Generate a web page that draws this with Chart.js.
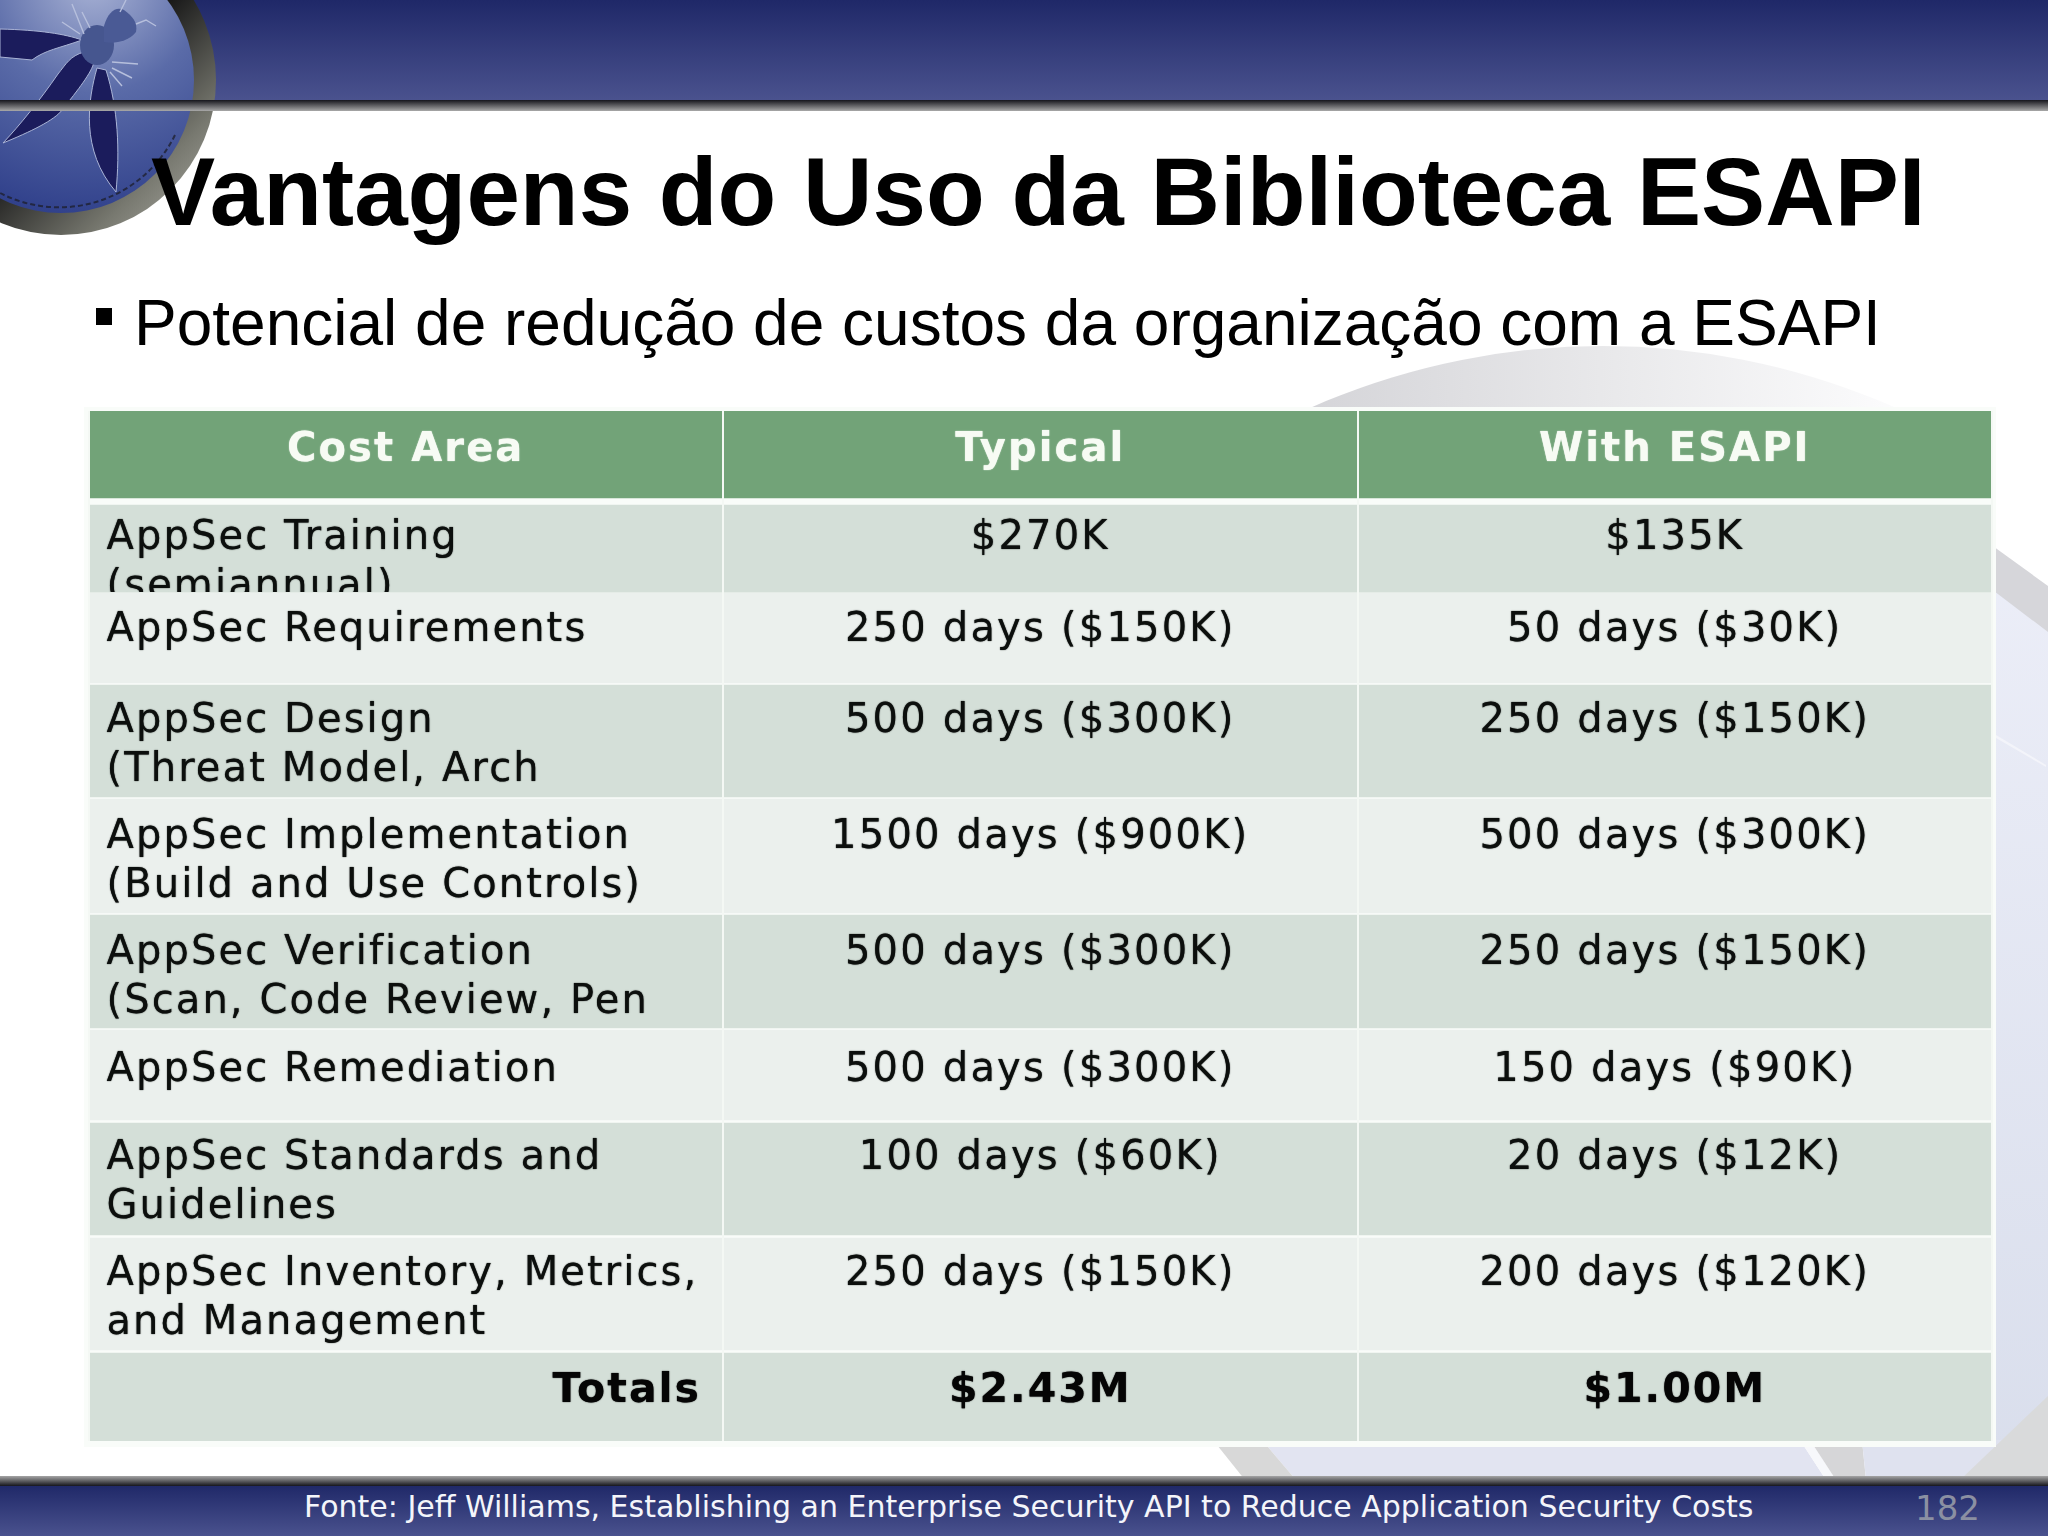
<!DOCTYPE html>
<html>
<head>
<meta charset="utf-8">
<style>
  html, body { margin: 0; padding: 0; background: #fff; }
  #slide { position: relative; width: 2048px; height: 1536px; overflow: hidden; }
  #slide svg { position: absolute; left: 0; top: 0; }
  #tableChart { position: absolute; left: 84px; top: 407px; background: #f9fcf9; }
</style>
<script src="https://cdn.jsdelivr.net/npm/chart.js@4"></script>
</head>
<body>
<div id="slide">
<svg width="2048" height="1536" viewBox="0 0 2048 1536">
  <defs>
    <linearGradient id="bandTop" x1="0" y1="0" x2="0" y2="1"><stop offset="0" stop-color="#1f2868"/><stop offset="1" stop-color="#4a528e"/></linearGradient>
    <linearGradient id="lineTop" x1="0" y1="0" x2="0" y2="1"><stop offset="0" stop-color="#15151c"/><stop offset="1" stop-color="#a8a8a8"/></linearGradient>
    <linearGradient id="lineBot" x1="0" y1="0" x2="0" y2="1"><stop offset="0" stop-color="#a5a5a5"/><stop offset="1" stop-color="#15151c"/></linearGradient>
    <linearGradient id="arc" gradientUnits="userSpaceOnUse" x1="1300" y1="0" x2="1900" y2="0"><stop offset="0" stop-color="#d4d4d8"/><stop offset="0.5" stop-color="#e8e8ea"/><stop offset="1" stop-color="#fcfcfd"/></linearGradient>
    <linearGradient id="lav" x1="0" y1="0" x2="0" y2="1"><stop offset="0" stop-color="#eceef8"/><stop offset="1" stop-color="#d9deec"/></linearGradient>
    <radialGradient id="disc" cx="0.62" cy="0.12" r="0.95"><stop offset="0" stop-color="#aab4d6"/><stop offset="0.45" stop-color="#5a6ba8"/><stop offset="1" stop-color="#2c3c88"/></radialGradient>
    <linearGradient id="ring" x1="0" y1="0" x2="1" y2="1"><stop offset="0" stop-color="#2b2b2b"/><stop offset="0.55" stop-color="#1a1a1a"/><stop offset="0.8" stop-color="#77786f"/><stop offset="1" stop-color="#b4b4ac"/></linearGradient>
  </defs>
  <rect width="2048" height="1536" fill="#fff"/>
  <!-- swoosh shapes behind the table -->
  <circle cx="1603" cy="1070" r="724" fill="url(#arc)"/>
  <rect x="900" y="411" width="1148" height="1070" fill="#fff"/>
  <polygon points="1990,544 2048,590 2048,1480 1990,1480" fill="url(#lav)"/>
  <polygon points="1990,544 2048,586 2048,632 1990,588" fill="#d6d6da"/>
  <polygon points="1996,735 2046,765 2046,767 1996,738" fill="#f3f4fa"/>
  <polygon points="1262,1440 1800,1440 1826,1480 1296,1480" fill="#e2e4f1"/>
  <polygon points="1213,1440 1262,1440 1296,1480 1245,1480" fill="#d8d8d8"/>
  <polygon points="1800,1440 1810,1440 1836,1480 1826,1480" fill="#f7f8fb"/>
  <polygon points="1810,1440 1862,1440 1866,1480 1836,1480" fill="#d6d6d8"/>
  <polygon points="1862,1440 2020,1440 1960,1480 1866,1480" fill="#dfe2ef"/>
  <polygon points="2048,1396 2048,1480 1960,1480" fill="#d9dadb"/>
  <!-- top and bottom bands -->
  <rect width="2048" height="100" fill="url(#bandTop)"/>
  <rect y="1485" width="2048" height="51" fill="url(#bandTop)"/>
  <rect y="1476" width="2048" height="10" fill="url(#lineBot)"/>
  <!-- logo -->
  <circle cx="61" cy="80" r="155" fill="url(#ring)"/>
  <circle cx="61" cy="80" r="133" fill="url(#disc)"/>
  <path d="M175 135 A129 129 0 0 1 0 193" fill="none" stroke="#1b1b22" stroke-width="2" stroke-dasharray="5 3" stroke-opacity="0.7"/>
  <path d="M0 29 C40 30 65 34 82 40 C60 48 45 50 32 60 L0 57 Z" fill="#1b1c5c" stroke="#aab4d6" stroke-width="1"/>
  <path d="M84 52 C70 56 66 64 58 74 C40 100 20 125 3 143 C30 132 55 120 62 110 C78 90 92 72 94 62 Z" fill="#1b1c5c" stroke="#aab4d6" stroke-width="1"/>
  <path d="M97 68 C88 100 80 150 116 192 C120 150 118 108 106 70 Z" fill="#1b1c5c" stroke="#aab4d6" stroke-width="1"/>
  <ellipse cx="97" cy="45" rx="17" ry="20" fill="#46568f"/>
  <path d="M104 26 C108 12 116 6 124 10 C132 16 138 22 136 32 C128 42 114 44 104 42 Z" fill="#4a5a95"/>
  <g stroke="#b6bfdc" stroke-width="1.4" fill="none">
    <path d="M84 34 L72 4 M80 34 L62 22 M90 28 L82 12"/>
    <path d="M112 62 L138 64 M112 68 L132 78 M110 72 L122 86"/>
    <path d="M136 24 L146 20 L156 26"/>
    <path d="M120 12 L126 0"/>
  </g>
  <rect y="100" width="2048" height="11" fill="url(#lineTop)"/>
  <!-- slide text -->
  <text x="151" y="225" font-family="Liberation Sans" font-weight="bold" font-size="96.2" fill="#000">Vantagens do Uso da Biblioteca ESAPI</text>
  <rect x="96" y="308" width="16" height="17" fill="#000"/>
  <text x="134" y="345" font-family="Liberation Sans" font-size="64" fill="#000">Potencial de redução de custos da organização com a ESAPI</text>
  <text x="304" y="1517" font-family="DejaVu Sans" font-size="30" fill="#f4f5fa">Fonte: Jeff Williams, Establishing an Enterprise Security API to Reduce Application Security Costs</text>
  <text x="1915" y="1520" font-family="DejaVu Sans" font-size="34" fill="#8b90a2">182</text>
</svg>
<canvas id="tableChart" width="1912" height="1040"></canvas>
</div>
<script>
// table content
const columnNames = ['Cost Area', 'Typical', 'With ESAPI'];
const costAreas = [
  ['AppSec Training', '(semiannual)'],
  ['AppSec Requirements'],
  ['AppSec Design', '(Threat Model, Arch'],
  ['AppSec Implementation', '(Build and Use Controls)'],
  ['AppSec Verification', '(Scan, Code Review, Pen'],
  ['AppSec Remediation'],
  ['AppSec Standards and', 'Guidelines'],
  ['AppSec Inventory, Metrics,', 'and Management']
];
const typicalCosts = ['$270K', '250 days ($150K)', '500 days ($300K)', '1500 days ($900K)',
  '500 days ($300K)', '500 days ($300K)', '100 days ($60K)', '250 days ($150K)'];
const esapiCosts = ['$135K', '50 days ($30K)', '250 days ($150K)', '500 days ($300K)',
  '250 days ($150K)', '150 days ($90K)', '20 days ($12K)', '200 days ($120K)'];
const totalsLabel = 'Totals';
const totals = ['$2.43M', '$1.00M'];

// row extents on the y scale, header first, totals last
const rowStart = [411, 505, 592, 685, 799, 915, 1030, 1123, 1238, 1353];
const rowEnd = [498, 592, 683, 797, 913, 1028, 1120, 1235, 1350, 1441];
const firstBaseline = [461, 549, 641, 732, 848, 964, 1081, 1169, 1285, 1402];
const lineGap = 49;

const HEADER = '#72a378', ODD = '#d4dfd8', EVEN = '#ebf0ed';
const datasets = rowStart.map(function (top, r) {
  return {
    label: r === 0 ? 'header' : 'row ' + r,
    data: columnNames.map(function () { return [top, rowEnd[r]]; }),
    backgroundColor: r === 0 ? HEADER : (r % 2 ? ODD : EVEN),
    barPercentage: 1,
    categoryPercentage: 1,
    borderWidth: 0
  };
});

function drawCell(ctx, chart, r, c, lines, align, font, color, spacing) {
  const x = chart.scales.x, y = chart.scales.y;
  const half = (x.getPixelForValue(1) - x.getPixelForValue(0)) / 2;
  const mid = x.getPixelForValue(c);
  const px = align === 'left' ? mid - half + 18 : align === 'right' ? mid + half - 22 : mid;
  ctx.save();
  ctx.beginPath();
  ctx.rect(mid - half, y.getPixelForValue(rowStart[r]), half * 2, y.getPixelForValue(rowEnd[r]) - y.getPixelForValue(rowStart[r]));
  ctx.clip();
  ctx.font = font;
  ctx.fillStyle = color;
  ctx.shadowColor = color;
  ctx.shadowBlur = 1.2;
  ctx.textAlign = align;
  ctx.textBaseline = 'alphabetic';
  ctx.letterSpacing = spacing;
  lines.forEach(function (line, i) {
    ctx.fillText(line, px, y.getPixelForValue(firstBaseline[r] + i * lineGap));
  });
  ctx.restore();
}

const cellText = {
  id: 'cellText',
  afterDraw: function (chart) {
    const ctx = chart.ctx;
    const plain = '40px "DejaVu Sans"', bold = 'bold 40px "DejaVu Sans"', boldBig = 'bold 41px "DejaVu Sans"';
    columnNames.forEach(function (name, c) {
      drawCell(ctx, chart, 0, c, [name], 'center', bold, '#f7fbf4', '2.1px');
    });
    costAreas.forEach(function (lines, i) {
      drawCell(ctx, chart, i + 1, 0, lines, 'left', plain, '#0c0f0d', '2.1px');
      drawCell(ctx, chart, i + 1, 1, [typicalCosts[i]], 'center', plain, '#0c0f0d', '2.2px');
      drawCell(ctx, chart, i + 1, 2, [esapiCosts[i]], 'center', plain, '#0c0f0d', '2.2px');
    });
    const last = rowStart.length - 1;
    drawCell(ctx, chart, last, 0, [totalsLabel], 'right', boldBig, '#050505', '2px');
    drawCell(ctx, chart, last, 1, [totals[0]], 'center', boldBig, '#050505', '2px');
    drawCell(ctx, chart, last, 2, [totals[1]], 'center', boldBig, '#050505', '2px');
  }
};

new Chart(document.getElementById('tableChart'), {
  type: 'bar',
  data: { labels: columnNames, datasets: datasets },
  plugins: [cellText],
  options: {
    responsive: false,
    animation: false,
    layout: { padding: { left: 4.5, right: 4, top: 4, bottom: 6 } },
    plugins: { legend: { display: false }, tooltip: { enabled: false }, title: { display: false } },
    scales: {
      x: {
        stacked: true,
        grid: { color: '#f4f8f4', lineWidth: 2, drawTicks: false, z: 1 },
        border: { display: false },
        ticks: { display: false }
      },
      y: {
        display: false,
        reverse: true,
        min: 411,
        max: 1441
      }
    }
  }
});
</script>
</body>
</html>
